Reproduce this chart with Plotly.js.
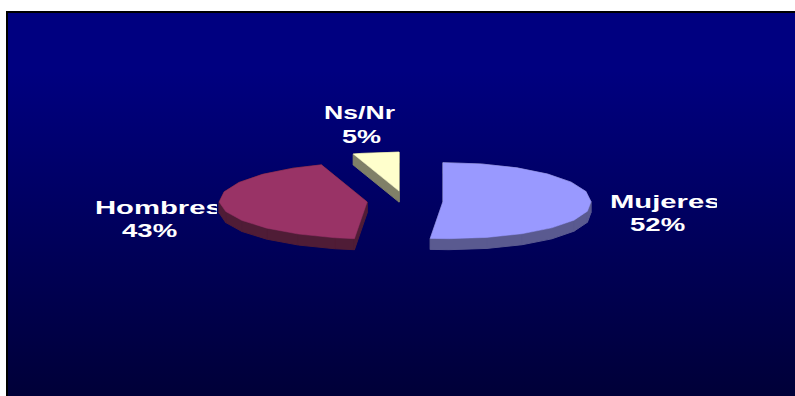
<!DOCTYPE html>
<html>
<head>
<meta charset="utf-8">
<script src="https://cdn.plot.ly/plotly-3.0.1.min.js"></script>
<style>
  html, body { margin: 0; padding: 0; background: #ffffff; width: 795px; height: 396px; overflow: hidden; }
  #panel {
    position: absolute; left: 6px; top: 11px; width: 787px; height: 383px;
    border-top: 2px solid #000; border-left: 2px solid #000;
    background: linear-gradient(to bottom, #000080 0%, #000080 15%, #000038 100%);
  }
  #chart { position: absolute; left: 0; top: 0; width: 795px; height: 396px; }
</style>
</head>
<body>
<div id="panel"></div>
<div id="chart"></div>
<script>
// Survey answers by sex
const categories = ['Mujeres', 'Hombres', 'Ns/Nr'];
const values = [52, 43, 5];
const topColors = ['#9999FF', '#993366', '#FFFFCC'];
const sideColors = ['#5A5A90', '#4F1C36', '#808068'];

// Pie geometry on the plot: unit circle flattened by the axis scales
const W = 795, H = 396;
const cx = 405, cy = 201;      // pie centre, px
const rx = 148, ry = 39;       // pixels per axis unit
const pull = 0.257;            // how far each slice is pulled out
const depth = 11 / ry;         // extrusion in y units
const facet = 15;              // degrees per outline segment
const frontShear = 0.04;       // front half leans slightly to the right
const frontFlatten = 0.95;     // and is a little shallower than the back half

function rimPoint(deg) {
  const t = deg * Math.PI / 180;
  const s = Math.sin(t), c = Math.cos(t);
  return c < 0 ? [s - frontShear * c, c * frontFlatten] : [s, c];
}

function sliceOutline(startDeg, endDeg) {
  const mid = (startDeg + endDeg) / 2 * Math.PI / 180;
  const ox = pull * Math.sin(mid), oy = pull * Math.cos(mid);
  const pts = [[ox, oy]];
  const angles = [startDeg];
  for (let a = Math.ceil(startDeg / facet + 1e-6) * facet; a < endDeg - 1e-6; a += facet) angles.push(a);
  angles.push(endDeg);
  angles.forEach(a => {
    const p = rimPoint(a);
    pts.push([ox + p[0], oy + p[1]]);
  });
  return pts;
}

const total = values.reduce((s, v) => s + v, 0);
let running = 0;
const outlines = values.map(v => {
  const start = running / total * 360;
  running += v;
  return sliceOutline(start, running / total * 360);
});

// Side wall: one quad per outline edge, all wound the same way so they fill as a union
function sideTrace(pts, color) {
  const x = [], y = [];
  pts.forEach((p, i) => {
    const q = pts[(i + 1) % pts.length];
    const [a, b] = q[0] >= p[0] ? [p, q] : [q, p];
    x.push(a[0], b[0], b[0], a[0], a[0], null);
    y.push(a[1], b[1], b[1] - depth, a[1] - depth, a[1], null);
  });
  return { type: 'scatter', mode: 'lines', x, y, fill: 'toself', fillcolor: color,
           line: { color, width: 1 }, hoverinfo: 'skip', showlegend: false };
}
function topTrace(pts, color, name) {
  const closed = pts.concat([pts[0]]);
  return { type: 'scatter', mode: 'lines', name,
           x: closed.map(p => p[0]), y: closed.map(p => p[1]),
           fill: 'toself', fillcolor: color, line: { color, width: 0.5 },
           hoverinfo: 'name', showlegend: false };
}

// Back to front: the small slice first, then the two large ones
const traces = [];
[2, 1, 0].forEach(i => {
  traces.push(sideTrace(outlines[i], sideColors[i]));
  traces.push(topTrace(outlines[i], topColors[i], categories[i]));
});

// Label placement: left edge, vertical middle, horizontal stretch, right clip (px)
const nameStyle = [
  { left: 610, mid: 201, stretch: 1.58, clip: 717 },
  { left: 95,  mid: 207, stretch: 1.58, clip: 217 },
  { left: 324, mid: 112, stretch: 1.44 }
];
const shareStyle = [
  { left: 630, mid: 224, stretch: 1.49 },
  { left: 122, mid: 230, stretch: 1.49 },
  { left: 342, mid: 136, stretch: 1.46 }
];
const labelFont = { family: '"Liberation Sans", Arial, sans-serif', size: 18.5, color: '#ffffff' };
function label(text, s) {
  return { text: '<b>' + text + '</b>', xref: 'paper', yref: 'paper',
           x: s.left / W, y: 1 - s.mid / H, xanchor: 'left', yanchor: 'middle',
           showarrow: false, font: labelFont, borderpad: 0, borderwidth: 0 };
}
const annotations = categories.map((c, i) => label(c, nameStyle[i]))
  .concat(values.map((v, i) => label(v + '%', shareStyle[i])));
const annStyles = nameStyle.concat(shareStyle);

const layout = {
  width: W, height: H, margin: { l: 0, r: 0, t: 0, b: 0 },
  paper_bgcolor: 'rgba(0,0,0,0)', plot_bgcolor: 'rgba(0,0,0,0)',
  xaxis: { range: [(0 - cx) / rx, (W - cx) / rx], visible: false, fixedrange: true },
  yaxis: { range: [(cy - H) / ry, cy / ry], visible: false, fixedrange: true },
  annotations, showlegend: false
};

Plotly.newPlot('chart', traces, layout, { displayModeBar: false, staticPlot: true }).then(gd => {
  // Wide lettering: stretch each label sideways from its left edge
  gd.querySelectorAll('text.annotation-text').forEach((el, i) => {
    const s = annStyles[i];
    const b = el.getBBox();
    el.setAttribute('transform',
      `translate(${b.x},0) scale(${s.stretch},1) translate(${-b.x},0)`);
    if (s.clip) {
      const cut = (s.left + b.width * s.stretch - s.clip) / s.stretch;
      if (cut > 0) el.style.clipPath = `inset(-6px ${cut}px -6px 0)`;
    }
  });
});
</script>
</body>
</html>
